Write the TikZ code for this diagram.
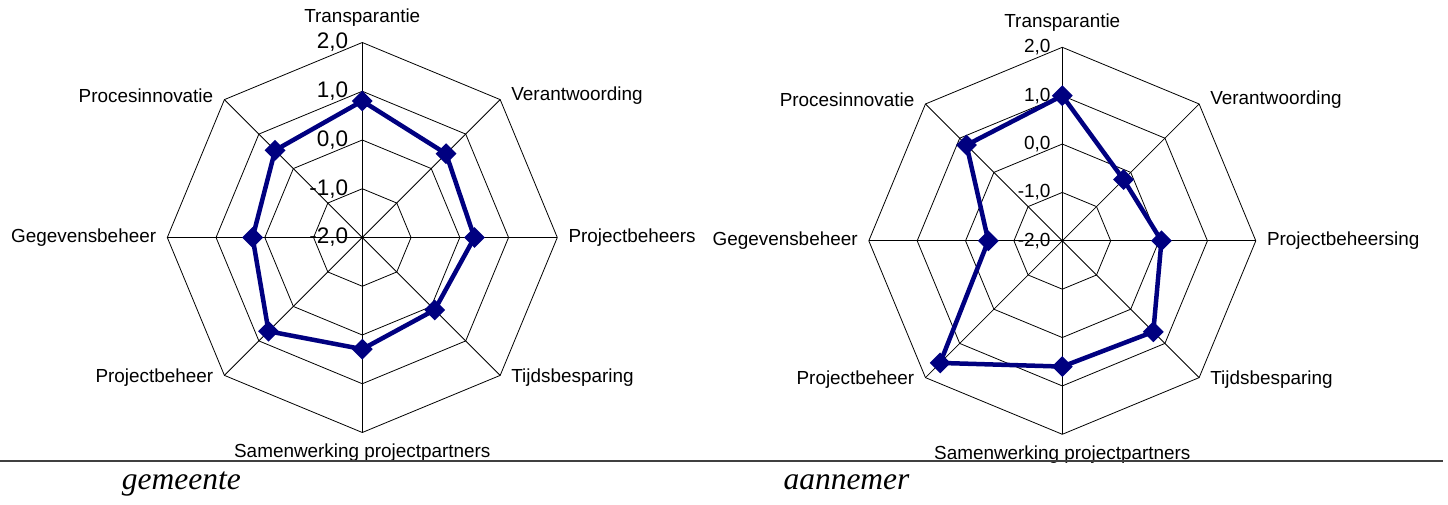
\documentclass[tikz,border=0pt]{standalone}
\usepackage{fontspec}
\setmainfont{Liberation Sans}
\newfontfamily\captionfont{Liberation Serif}
\usetikzlibrary{shapes.geometric}

\definecolor{seriesBlue}{RGB}{0,0,128}

\begin{document}
\begin{tikzpicture}[
    x=1pt, y=1pt,
    gridLine/.style={draw=black, line width=0.8pt},
    axisLabel/.style={inner sep=11pt, font=\fontsize{18.9}{22}\selectfont},
    valueLabel/.style={inner sep=0pt, anchor=east},
    seriesLine/.style={draw=seriesBlue, line width=4.5pt, line join=round},
    dataPoint/.style={diamond, fill=seriesBlue, inner sep=0pt, minimum size=21pt},
    captionText/.style={anchor=base west, inner sep=0pt, font=\captionfont\itshape\fontsize{31.5}{36}\selectfont},
    ruleLine/.style={draw=black!75, line width=2pt}
]
\useasboundingbox (0,0) rectangle (1448,504);

% Chart centres
\coordinate (leftCenter) at (362.3,266.5);
\coordinate (rightCenter) at (1062.3,263.2);

% Left chart: gemeente
\begin{scope}[shift={(leftCenter)}]
    % Grid
    \foreach \k in {1,...,4}
        \draw[gridLine] (90:\k*48.75) \foreach \a in {45,0,...,-225} { -- (\a:\k*48.75) } -- cycle;
    \foreach \a in {90,45,...,-225}
        \draw[gridLine] (0,0) -- (\a:195);

    % Data
    \foreach \a/\v [count=\i] in {90/0.80, 45/0.43, 0/0.30, -45/0.10, -90/0.29, -135/0.72, 180/0.25, 135/0.53}
        \coordinate (g\i) at (\a:{(\v+2)*48.75});
    \draw[seriesLine] (g1) -- (g2) -- (g3) -- (g4) -- (g5) -- (g6) -- (g7) -- (g8) -- cycle;
    \foreach \i in {1,...,8}
        \node[dataPoint] (gMark\i) at (g\i) {};

    % Labels
    \foreach \k in {-2,...,2}
        \node[valueLabel, font=\fontsize{22.5}{26}\selectfont] (gValue\k) at (-14,{(\k+2)*48.75}) {\k,0};
    \foreach \a/\txt/\anc/\dy [count=\i] in {90/Transparantie/south/5, 45/Verantwoording/west/4, 0/Projectbeheers/west/0, -45/Tijdsbesparing/west/-2, -90/Samenwerking projectpartners/north/0, -135/Projectbeheer/east/-2, 180/Gegevensbeheer/east/0, 135/Procesinnovatie/east/4}
        \node[axisLabel, anchor=\anc, yshift=\dy] (gAxis\i) at (\a:195) {\txt};
\end{scope}

% Right chart: aannemer
\begin{scope}[shift={(rightCenter)}]
    % Grid
    \foreach \k in {1,...,4}
        \draw[gridLine] (90:\k*48.375) \foreach \a in {45,0,...,-225} { -- (\a:\k*48.375) } -- cycle;
    \foreach \a in {90,45,...,-225}
        \draw[gridLine] (0,0) -- (\a:193.5);

    % Data
    \foreach \a/\v [count=\i] in {90/1.00, 45/-0.21, 0/0.05, -45/0.66, -90/0.60, -135/1.57, 180/-0.47, 135/0.80}
        \coordinate (a\i) at (\a:{(\v+2)*48.375});
    \draw[seriesLine] (a1) -- (a2) -- (a3) -- (a4) -- (a5) -- (a6) -- (a7) -- (a8) -- cycle;
    \foreach \i in {1,...,8}
        \node[dataPoint] (aMark\i) at (a\i) {};

    % Labels
    \foreach \k in {-2,...,2}
        \node[valueLabel, font=\fontsize{19}{22}\selectfont] (aValue\k) at (-11.6,{(\k+2)*48.375}) {\k,0};
    \foreach \a/\txt/\anc/\dy [count=\i] in {90/Transparantie/south/5, 45/Verantwoording/west/4, 0/Projectbeheersing/west/0, -45/Tijdsbesparing/west/-2, -90/Samenwerking projectpartners/north/0, -135/Projectbeheer/east/-2, 180/Gegevensbeheer/east/0, 135/Procesinnovatie/east/4}
        \node[axisLabel, anchor=\anc, yshift=\dy] (aAxis\i) at (\a:193.5) {\txt};
\end{scope}

% Rule and captions
\coordinate (ruleStart) at (0,43.3);
\coordinate (ruleEnd) at (1443,43.3);
\draw[ruleLine] (ruleStart) -- (ruleEnd);

\node[captionText] (gemeenteCaption) at (121.7,14.5) {gemeente};
\node[captionText] (aannemerCaption) at (783.3,14.5) {aannemer};

\end{tikzpicture}
\end{document}
